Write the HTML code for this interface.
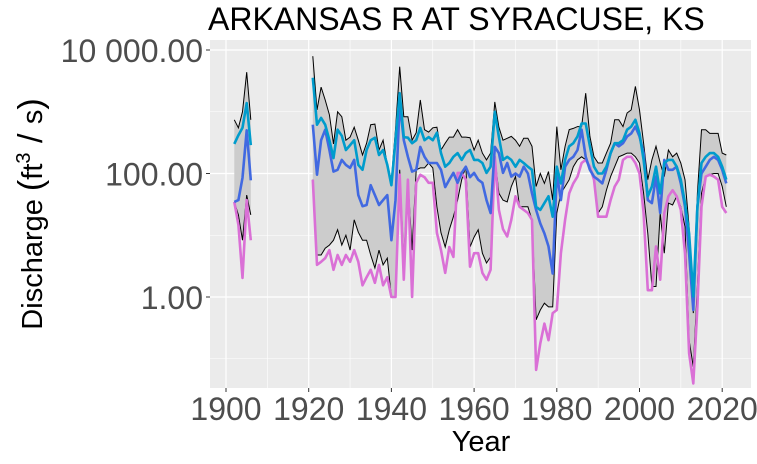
<!DOCTYPE html>
<html><head><meta charset="utf-8"><style>
body{margin:0;background:#fff;}
svg{display:block;font-family:"Liberation Sans",sans-serif;}
</style></head><body>
<svg id="chart" width="757" height="464" viewBox="0 0 757 464">
<text x="208" y="30" font-size="32" fill="#000">ARKANSAS R AT SYRACUSE, KS</text>
<rect x="210" y="40" width="541" height="348" fill="#ebebeb"/>
<g id="grid"></g>
<g id="series"></g>
<g id="axes"></g>
<text x="481" y="451" font-size="29" text-anchor="middle" fill="#000">Year</text>
<text transform="translate(42,214) rotate(-90)" font-size="29" text-anchor="middle" fill="#000">Discharge <tspan font-size="34">(</tspan>ft<tspan dy="-12" font-size="20">3</tspan><tspan dy="12" font-size="34"> / </tspan>s<tspan font-size="34">)</tspan></text>
</svg>
<script>
// years and log10 discharge values
const years = [1902,1903,1904,1905,1906].concat(Array.from({length:101},(_, i)=>1921+i));
const upperLog = [2.87,2.74,3.00,3.64,2.87,
3.90,3.03,3.40,3.19,2.95,2.48,3.00,2.92,2.54,2.59,2.75,2.54,2.30,2.49,2.79,2.80,2.38,2.54,2.14,1.90,2.71,
3.73,2.92,2.92,2.54,2.66,3.19,2.71,2.67,2.74,2.75,2.38,2.49,2.59,2.59,2.71,2.59,2.59,2.58,2.38,2.54,2.33,2.22,2.33,3.16,2.75,2.54,
2.57,2.60,2.54,2.44,2.57,2.57,2.44,1.79,2.00,1.84,2.03,1.57,2.76,2.06,2.44,2.71,2.73,2.76,2.76,3.30,2.60,2.27,2.17,2.17,2.33,2.49,2.87,2.87,2.76,2.98,3.03,3.41,3.03,2.49,1.90,2.22,2.44,2.17,1.95,2.38,2.27,2.33,2.17,1.90,1.14,-0.26,1.68,2.71,2.71,2.65,2.65,2.65,2.33,2.30];
const lowerLog = [1.54,1.33,0.92,1.65,1.33,
1.90,0.68,0.68,0.79,0.84,0.92,1.09,0.84,1.00,0.76,1.25,1.05,0.92,0.92,0.68,0.47,0.76,0.52,0.63,0,0,
2.06,0.60,1.90,0.76,2.06,2.09,2.09,2.17,2.09,1.46,1.04,0.81,1.09,1.30,1.57,1.90,2.11,0.81,0.97,1.09,0.71,0.55,0.65,2.27,1.68,1.57,
1.54,1.79,1.95,1.46,1.46,1.46,1.25,-0.37,-0.21,-0.10,-0.16,-0.16,1.36,1.68,1.79,1.90,2.11,2.22,2.27,2.22,2.11,1.95,1.36,1.46,1.73,1.95,2.11,2.27,2.30,2.33,2.33,2.27,2.17,1.68,1.03,0.17,0.17,1.36,0.71,1.52,1.49,1.63,1.46,1.14,-0.70,-1.13,0.17,1.68,1.95,1.98,2.00,2.00,1.79,1.46];
const cyanLog = [2.48,2.62,2.74,3.14,2.46,
3.55,2.79,2.90,2.79,2.54,2.25,2.71,2.61,2.38,2.46,2.54,2.14,2.06,2.38,2.54,2.58,2.30,2.38,2.14,1.81,2.54,
3.30,2.59,2.58,2.49,2.54,2.74,2.54,2.59,2.54,2.66,2.33,2.11,2.17,2.27,2.33,2.22,2.33,2.38,2.22,2.22,2.17,2.01,2.11,3.00,2.59,2.22,
2.27,2.22,2.11,2.22,2.17,2.11,2.06,1.46,1.41,1.52,1.63,1.30,2.11,1.84,2.22,2.44,2.49,2.60,2.81,2.81,2.44,2.11,2.00,2.00,2.11,2.33,2.49,2.49,2.54,2.71,2.76,2.87,2.65,2.22,1.63,1.79,2.11,1.68,2.17,2.22,2.22,2.11,1.90,1.52,1.03,0.01,1.46,2.17,2.27,2.33,2.33,2.27,2.11,1.90];
const blueLog = [1.54,1.57,1.93,2.70,1.89,
2.79,1.98,2.54,2.71,2.38,2.03,2.06,2.22,2.14,2.09,2.22,1.65,1.47,1.49,1.81,1.65,1.49,1.57,1.65,0.92,1.57,
3.14,2.54,2.27,2.03,2.06,2.43,2.27,2.17,2.17,2.17,2.06,1.78,1.90,2.01,1.85,2.01,2.11,1.94,2.01,1.90,1.85,1.57,1.36,2.43,2.33,2.01,
2.17,1.95,2.00,1.95,2.11,2.00,1.68,1.41,1.19,1.03,0.82,0.38,2.00,1.57,2.11,2.22,2.27,2.38,2.71,2.27,2.06,1.95,1.90,1.84,2.06,2.33,2.49,2.44,2.49,2.60,2.65,2.76,2.60,2.33,1.57,1.52,1.95,1.36,2.22,2.06,2.06,2.11,1.84,1.46,0.71,-0.21,1.46,2.00,2.11,2.22,2.27,2.22,2.06,1.84];
const magentaLog = [1.54,1.17,0.31,1.57,0.92,
1.90,0.52,0.57,0.63,0.76,0.44,0.68,0.52,0.68,0.57,0.76,0.57,0.19,0.32,0.44,0.23,0.52,0.19,0.32,0,0,
1.98,0.28,1.90,0,1.85,1.98,1.94,1.85,1.85,1.04,0.76,0.39,0.81,0.65,2.01,2.01,1.90,0.49,0.71,0.71,0.39,0.28,0.44,2.27,1.41,1.10,
0.98,1.25,1.63,1.46,1.41,1.36,1.25,-1.18,-0.75,-0.43,-0.70,-0.26,-0.21,0.71,1.25,1.68,1.84,1.95,2.17,2.22,2.11,1.90,1.30,1.30,1.30,1.57,1.79,1.90,2.22,2.27,2.27,2.17,2.00,1.36,0.11,0.11,0.82,0.28,1.36,1.63,1.73,1.63,1.41,0.71,-0.91,-1.40,-0.16,1.46,1.95,1.98,1.95,1.90,1.46,1.36];
const xTicks = [1900,1920,1940,1960,1980,2000,2020];
const yTickLog = [4,2,0];
const yTickLabels = ["10 000.00","100.00","1.00"];
const yMinorLog = [3,1,-1];

const NS="http://www.w3.org/2000/svg";
const xS = yr => 226 + (yr-1900)*4.135;
const yS = l => 297 - l*61.75;
function mk(tag, attrs, parent){const e=document.createElementNS(NS,tag);for(const k in attrs)e.setAttribute(k,attrs[k]);parent.appendChild(e);return e;}
const grid=document.getElementById('grid'), ser=document.getElementById('series'), axes=document.getElementById('axes');

yMinorLog.forEach(l=>{const g=mk('line',{x1:210,x2:751,y1:yS(l),y2:yS(l),stroke:'#fff','stroke-width':0.6},grid);

});
xTicks.slice(0,-1).forEach(t=>{const g=mk('line',{x1:xS(t+10),x2:xS(t+10),y1:40,y2:388,stroke:'#fff','stroke-width':0.6},grid);

});
yTickLog.forEach((l,i)=>{const g=mk('line',{x1:210,x2:751,y1:yS(l),y2:yS(l),stroke:'#fff','stroke-width':1.2},grid);


const tk=mk('line',{x1:206,x2:210,y1:yS(l),y2:yS(l),stroke:'#333','stroke-width':1},axes);


const tx=mk('text',{x:203,y:yS(l)+12,'font-size':32,'text-anchor':'end',fill:'#4d4d4d'},axes);tx.textContent=yTickLabels[i];

});
xTicks.forEach(t=>{const g=mk('line',{x1:xS(t),x2:xS(t),y1:40,y2:388,stroke:'#fff','stroke-width':1.2},grid);


const tk=mk('line',{x1:xS(t),x2:xS(t),y1:388,y2:392,stroke:'#333','stroke-width':1},axes);


const tx=mk('text',{x:xS(t),y:420,'font-size':32,'text-anchor':'middle',fill:'#4d4d4d'},axes);tx.textContent=t;

});

// segments split at gaps
const segs=[];let cur=[0];
for(let i=1;i<years.length;i++){if(years[i]-years[i-1]>1){segs.push(cur);cur=[i];}else cur.push(i);}
segs.push(cur);
const pts=(arr,idx)=>idx.map(i=>xS(years[i]).toFixed(1)+','+yS(arr[i]).toFixed(1)).join(' ');
segs.forEach(idx=>{
 const band=mk('polygon',{points:pts(upperLog,idx)+' '+pts(lowerLog,idx.slice().reverse()),fill:'#cccccc',stroke:'none'},ser);
 
 
 const u=mk('polyline',{points:pts(upperLog,idx),fill:'none',stroke:'#000','stroke-width':1},ser);
 
 
 const lo=mk('polyline',{points:pts(lowerLog,idx),fill:'none',stroke:'#000','stroke-width':1},ser);
 
 
 const m=mk('polyline',{points:pts(magentaLog,idx),fill:'none',stroke:'#da70d6','stroke-width':2.6,'stroke-linejoin':'round'},ser);
 
 
 const b=mk('polyline',{points:pts(blueLog,idx),fill:'none',stroke:'#4169e1','stroke-width':2.6,'stroke-linejoin':'round'},ser);
 
 
 const c=mk('polyline',{points:pts(cyanLog,idx),fill:'none',stroke:'#009ccc','stroke-width':2.6,'stroke-linejoin':'round'},ser);
 
 
});
</script>
</body></html>
